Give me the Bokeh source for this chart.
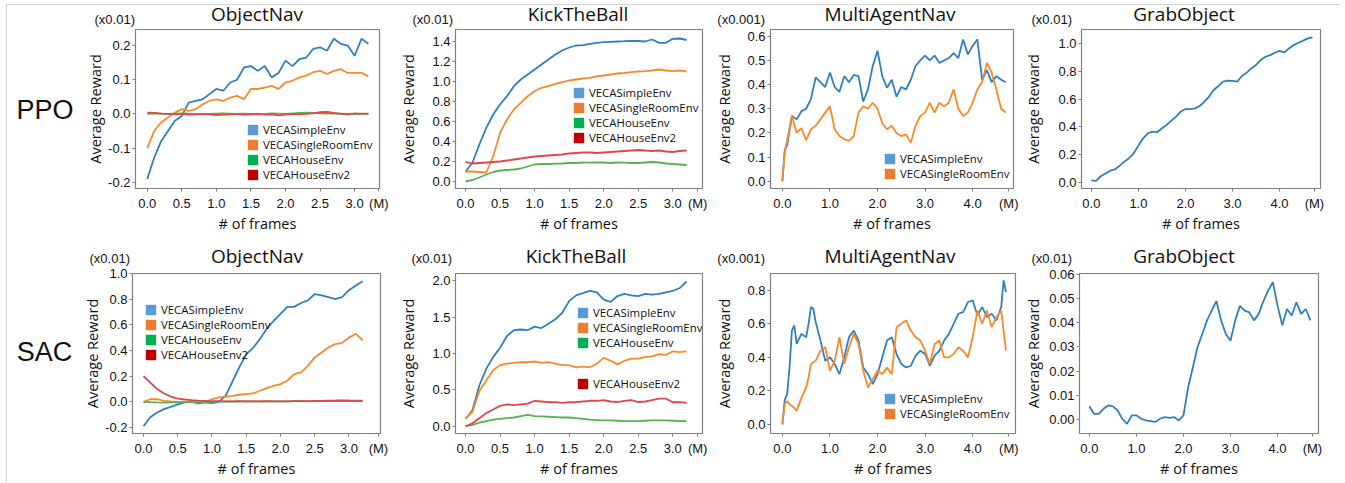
from bokeh.plotting import figure
from bokeh.models import (Legend, LegendItem, FixedTicker, NumeralTickFormatter, Range1d, Div)
from bokeh.layouts import row, column
from bokeh.embed import file_html
from bokeh.resources import INLINE

# ---------------- data ----------------
ENV_NAMES = ["VECASimpleEnv", "VECASingleRoomEnv", "VECAHouseEnv", "VECAHouseEnv2"]
ROW_NAMES = ["PPO", "SAC"]
TASK_NAMES = ["ObjectNav", "KickTheBall", "MultiAgentNav", "GrabObject"]
SCALE_TEXT = ["(x0.01)", "(x0.01)", "(x0.001)", "(x0.01)"]
X_UNIT = "(M)"

# PPO ObjectNav
X_PPO_OBJ = [0.0, 0.1, 0.2, 0.3, 0.4, 0.5, 0.6, 0.7, 0.8, 0.9, 1.0, 1.1, 1.2, 1.3, 1.4, 1.5, 1.6,
             1.7, 1.8, 1.9, 2.0, 2.1, 2.2, 2.3, 2.4, 2.5, 2.6, 2.7, 2.8, 2.9, 3.0, 3.1, 3.2]
PPO_OBJ_SIMPLE = [-0.19, -0.128, -0.08, -0.05, -0.02, -0.006, 0.033, 0.038, 0.043, 0.058, 0.073, 0.068,
                  0.092, 0.10, 0.136, 0.14, 0.126, 0.14, 0.107, 0.12, 0.156, 0.14, 0.16, 0.165, 0.19,
                  0.195, 0.185, 0.22, 0.205, 0.2, 0.17, 0.22, 0.205]
PPO_OBJ_SINGLE = [-0.1, -0.05, -0.025, -0.01, 0.004, 0.014, 0.009, 0.014, 0.028, 0.038, 0.043, 0.038,
                  0.048, 0.053, 0.043, 0.073, 0.073, 0.077, 0.082, 0.073, 0.092, 0.097, 0.107, 0.112,
                  0.122, 0.126, 0.117, 0.126, 0.131, 0.12, 0.12, 0.12, 0.11]
PPO_OBJ_HOUSE = [0.0, 0.002, 0.001, 0.0, 0.001, 0.002, 0.001, 0.0, -0.001, 0.0, 0.001, 0.002, 0.001,
                 0.0, 0.001, 0.0, -0.001, 0.0, 0.002, 0.001, 0.0, 0.002, 0.003, 0.004, 0.003, 0.002,
                 0.001, 0.002, 0.001, 0.0, 0.001, 0.001, 0.0]
PPO_OBJ_HOUSE2 = [0.004, 0.003, 0.001, 0.0, -0.001, 0.0, -0.002, -0.001, 0.0, -0.001, -0.003, -0.002,
                  -0.001, 0.0, -0.002, -0.001, 0.0, -0.002, -0.001, -0.004, -0.002, 0.0, -0.001, 0.0,
                  0.002, 0.005, 0.006, 0.003, 0.0, -0.001, 0.001, 0.0, 0.001]

# PPO KickTheBall
X_PPO_KICK = X_PPO_OBJ
PPO_KICK_SIMPLE = [0.1, 0.187, 0.37, 0.537, 0.67, 0.77, 0.853, 0.953, 1.02, 1.07, 1.12, 1.17, 1.22,
                   1.27, 1.31, 1.34, 1.36, 1.363, 1.377, 1.387, 1.393, 1.397, 1.40, 1.403, 1.407,
                   1.405, 1.40, 1.42, 1.387, 1.387, 1.427, 1.43, 1.415]
PPO_KICK_SINGLE = [0.1, 0.1, 0.095, 0.09, 0.25, 0.487, 0.62, 0.72, 0.787, 0.853, 0.903, 0.937, 0.953,
                   0.977, 0.993, 1.01, 1.02, 1.03, 1.037, 1.05, 1.06, 1.07, 1.08, 1.085, 1.093, 1.10,
                   1.103, 1.11, 1.12, 1.11, 1.103, 1.11, 1.10]
PPO_KICK_HOUSE = [0.0, 0.015, 0.04, 0.07, 0.095, 0.11, 0.115, 0.12, 0.13, 0.15, 0.17, 0.175, 0.175,
                  0.178, 0.18, 0.185, 0.185, 0.19, 0.188, 0.19, 0.19, 0.185, 0.19, 0.188, 0.185, 0.185,
                  0.19, 0.195, 0.19, 0.18, 0.175, 0.17, 0.165]
PPO_KICK_HOUSE2 = [0.197, 0.18, 0.185, 0.19, 0.195, 0.2, 0.21, 0.22, 0.23, 0.24, 0.25, 0.255, 0.26,
                   0.265, 0.27, 0.28, 0.285, 0.29, 0.29, 0.285, 0.29, 0.295, 0.3, 0.305, 0.31, 0.315,
                   0.31, 0.305, 0.31, 0.3, 0.295, 0.305, 0.31]

# PPO MultiAgentNav
X_PPO_MULTI = [0.0, 0.05, 0.1, 0.2, 0.3, 0.4, 0.5, 0.6, 0.7, 0.8, 0.9, 1.0, 1.1, 1.2, 1.3, 1.4, 1.5,
               1.6, 1.7, 1.8, 1.9, 2.0, 2.1, 2.2, 2.3, 2.4, 2.5, 2.6, 2.7, 2.8, 2.9, 3.0, 3.1, 3.2,
               3.3, 3.4, 3.5, 3.6, 3.7, 3.8, 3.9, 4.0, 4.1, 4.2, 4.3, 4.4, 4.5, 4.6, 4.7]
PPO_MULTI_SIMPLE = [0.0, 0.13, 0.15, 0.27, 0.256, 0.29, 0.30, 0.34, 0.43, 0.41, 0.39, 0.45, 0.39, 0.37,
                    0.435, 0.41, 0.44, 0.435, 0.33, 0.38, 0.477, 0.54, 0.435, 0.387, 0.42, 0.35, 0.39,
                    0.38, 0.42, 0.477, 0.50, 0.52, 0.50, 0.52, 0.49, 0.50, 0.51, 0.53, 0.51, 0.587,
                    0.525, 0.56, 0.587, 0.42, 0.46, 0.41, 0.435, 0.42, 0.41]
PPO_MULTI_SINGLE = [0.0, 0.12, 0.17, 0.27, 0.2, 0.22, 0.17, 0.215, 0.23, 0.256, 0.284, 0.31, 0.215,
                    0.187, 0.174, 0.167, 0.187, 0.284, 0.31, 0.30, 0.325, 0.30, 0.24, 0.215, 0.23, 0.20,
                    0.187, 0.194, 0.16, 0.23, 0.27, 0.284, 0.325, 0.284, 0.325, 0.31, 0.325, 0.38, 0.30,
                    0.27, 0.284, 0.325, 0.38, 0.41, 0.49, 0.45, 0.38, 0.30, 0.284]

# PPO GrabObject
X_PPO_GRAB = [0.0, 0.1, 0.2, 0.3, 0.4, 0.5, 0.6, 0.7, 0.8, 0.9, 1.0, 1.1, 1.2, 1.3, 1.4, 1.5, 1.6,
              1.7, 1.8, 1.9, 2.0, 2.1, 2.2, 2.3, 2.4, 2.5, 2.6, 2.7, 2.8, 2.9, 3.0, 3.1, 3.2, 3.3,
              3.4, 3.5, 3.6, 3.7, 3.8, 3.9, 4.0, 4.1, 4.2, 4.3, 4.4, 4.5, 4.6, 4.7]
PPO_GRAB_SIMPLE = [0.015, 0.012, 0.045, 0.065, 0.085, 0.095, 0.12, 0.15, 0.175, 0.21, 0.266, 0.318,
                   0.354, 0.366, 0.361, 0.39, 0.414, 0.445, 0.474, 0.51, 0.528, 0.528, 0.533, 0.55,
                   0.58, 0.617, 0.665, 0.694, 0.725, 0.732, 0.73, 0.725, 0.766, 0.79, 0.82, 0.845,
                   0.88, 0.904, 0.916, 0.933, 0.947, 0.935, 0.964, 0.988, 1.005, 1.02, 1.036, 1.043]

# SAC ObjectNav
X_SAC_OBJ = X_PPO_OBJ
SAC_OBJ_SIMPLE = [-0.19, -0.12, -0.083, -0.057, -0.04, -0.02, -0.005, 0.0, -0.013, -0.005, -0.01, 0.0,
                  0.047, 0.16, 0.27, 0.37, 0.42, 0.49, 0.57, 0.63, 0.685, 0.74, 0.74, 0.77, 0.79, 0.84,
                  0.83, 0.815, 0.80, 0.815, 0.87, 0.906, 0.94]
SAC_OBJ_SINGLE = [0.0, 0.02, 0.02, 0.008, 0.003, 0.0, -0.002, -0.003, -0.005, 0.0, 0.02, 0.034, 0.04,
                  0.047, 0.055, 0.06, 0.065, 0.086, 0.107, 0.125, 0.138, 0.164, 0.216, 0.23, 0.28,
                  0.346, 0.385, 0.424, 0.45, 0.46, 0.50, 0.53, 0.48]
SAC_OBJ_HOUSE = [0.0, -0.003, -0.005, -0.006, -0.005, -0.004, -0.003, -0.002, -0.002, -0.001, 0.0,
                 0.001, 0.002, 0.002, 0.003, 0.003, 0.003, 0.004, 0.004, 0.003, 0.004, 0.004, 0.005,
                 0.005, 0.004, 0.005, 0.005, 0.006, 0.005, 0.006, 0.006, 0.005, 0.006]
SAC_OBJ_HOUSE2 = [0.2, 0.15, 0.1, 0.065, 0.04, 0.025, 0.018, 0.013, 0.01, 0.008, 0.006, 0.005, 0.004,
                  0.004, 0.005, 0.004, 0.003, 0.004, 0.005, 0.004, 0.003, 0.004, 0.005, 0.006, 0.006,
                  0.007, 0.008, 0.009, 0.01, 0.01, 0.01, 0.009, 0.01]

# SAC KickTheBall
X_SAC_KICK = X_PPO_OBJ
SAC_KICK_SIMPLE = [0.1, 0.22, 0.56, 0.79, 0.95, 1.08, 1.24, 1.32, 1.33, 1.32, 1.37, 1.35, 1.41, 1.47,
                   1.56, 1.72, 1.80, 1.83, 1.86, 1.84, 1.74, 1.71, 1.79, 1.82, 1.80, 1.79, 1.82, 1.81,
                   1.82, 1.84, 1.86, 1.90, 1.99]
SAC_KICK_SINGLE = [0.1, 0.2, 0.48, 0.63, 0.77, 0.84, 0.86, 0.87, 0.88, 0.88, 0.89, 0.87, 0.88, 0.86,
                   0.84, 0.84, 0.81, 0.82, 0.81, 0.86, 0.94, 0.90, 0.85, 0.90, 0.93, 0.93, 0.95, 0.96,
                   0.99, 0.98, 1.03, 1.02, 1.03]
SAC_KICK_HOUSE = [0.0, 0.02, 0.05, 0.07, 0.09, 0.10, 0.11, 0.12, 0.14, 0.155, 0.14, 0.135, 0.13,
                  0.125, 0.12, 0.12, 0.11, 0.10, 0.09, 0.085, 0.08, 0.08, 0.075, 0.07, 0.07, 0.07,
                  0.075, 0.08, 0.08, 0.08, 0.075, 0.07, 0.07]
SAC_KICK_HOUSE2 = [0.0, 0.04, 0.11, 0.18, 0.23, 0.28, 0.30, 0.29, 0.30, 0.31, 0.35, 0.34, 0.33, 0.33,
                   0.32, 0.33, 0.33, 0.34, 0.35, 0.35, 0.36, 0.34, 0.33, 0.35, 0.36, 0.33, 0.34, 0.36,
                   0.38, 0.38, 0.33, 0.33, 0.32]

# SAC MultiAgentNav
X_SAC_MULTI = [0.0, 0.05, 0.1, 0.15, 0.2, 0.25, 0.3, 0.4, 0.5, 0.55, 0.6, 0.65, 0.7, 0.8, 0.9, 1.0,
               1.1, 1.2, 1.3, 1.4, 1.5, 1.6, 1.7, 1.8, 1.9, 2.0, 2.1, 2.2, 2.3, 2.4, 2.5, 2.6, 2.7,
               2.8, 2.9, 3.0, 3.1, 3.2, 3.3, 3.4, 3.5, 3.6, 3.7, 3.8, 3.9, 4.0, 4.1, 4.2, 4.3, 4.4,
               4.5, 4.6, 4.65, 4.7]
SAC_MULTI_SIMPLE = [0.0, 0.15, 0.18, 0.34, 0.56, 0.59, 0.48, 0.54, 0.52, 0.60, 0.70, 0.69, 0.61, 0.50,
                    0.38, 0.40, 0.36, 0.30, 0.40, 0.52, 0.56, 0.50, 0.34, 0.30, 0.24, 0.30, 0.40, 0.50,
                    0.52, 0.42, 0.36, 0.34, 0.35, 0.41, 0.44, 0.42, 0.35, 0.41, 0.44, 0.50, 0.54, 0.60,
                    0.66, 0.67, 0.73, 0.74, 0.65, 0.70, 0.64, 0.66, 0.62, 0.70, 0.86, 0.79]
SAC_MULTI_SINGLE = [0.0, 0.12, 0.14, 0.12, 0.11, 0.10, 0.08, 0.16, 0.22, 0.28, 0.36, 0.37, 0.38, 0.44,
                    0.46, 0.32, 0.38, 0.52, 0.36, 0.46, 0.54, 0.48, 0.32, 0.22, 0.27, 0.32, 0.30, 0.34,
                    0.30, 0.58, 0.60, 0.62, 0.56, 0.52, 0.50, 0.44, 0.36, 0.48, 0.50, 0.40, 0.40, 0.42,
                    0.46, 0.44, 0.40, 0.52, 0.68, 0.60, 0.68, 0.58, 0.64, 0.68, 0.56, 0.44]

# SAC GrabObject
X_SAC_GRAB = X_PPO_GRAB
SAC_GRAB_SIMPLE = [0.0055, 0.0023, 0.0023, 0.0044, 0.0058, 0.0054, 0.0037, 0.0003, -0.0018, 0.0017,
                   0.0017, 0.0003, -0.0004, -0.0007, -0.001, 0.0003, 0.001, 0.0007, 0.001, -0.0004,
                   0.0017, 0.0134, 0.0216, 0.030, 0.0354, 0.041, 0.045, 0.049, 0.041, 0.0354, 0.0326,
                   0.041, 0.047, 0.045, 0.0443, 0.041, 0.0437, 0.049, 0.0533, 0.0568, 0.047, 0.039,
                   0.0457, 0.043, 0.0485, 0.0437, 0.0457, 0.041]

# ---------------- styling ----------------
LINE_COLORS = ["#2f7fc1", "#f88a2b", "#55b255", "#e0474c"]
PATCH_COLORS = ["#5b9bd5", "#ed7d31", "#00b050", "#c00000"]
GRAY = "#808080"
BORDER = "#d4d4d4"
INK = "#111111"
TICK_FONT = "Liberation Sans"
TEXT_FONT = "Open Sans"


def span_html(text, left, top, font, size, align):
    if align == "center":
        pos = "left:%spx;transform:translateX(-50%%);" % left
    elif align == "right":
        pos = "right:%spx;" % left
    else:
        pos = "left:%spx;" % left
    return ('<span style="position:absolute;%stop:%spx;font-family:\'%s\';font-size:%spx;'
            'line-height:1;white-space:nowrap;color:%s;">%s</span>' % (pos, top, font, size, INK, text))


def box_html(left, top, width, height):
    return ('<div style="position:absolute;left:%spx;top:%spx;width:%spx;height:%spx;'
            'background:%s;"></div>' % (left, top, width, height, BORDER))


def wrap_div(width, height, inner):
    html = ('<div style="position:relative;width:%spx;height:%spx;margin:0;padding:0;'
            'overflow:visible;">%s</div>' % (width, height, inner))
    return Div(text=html, width=width, height=height,
               styles={"margin": "0", "padding": "0", "overflow": "visible", "z-index": "2"})


def strip(width, height, title, tx, ttop, scale, sx, stop, top_line):
    inner = ""
    if top_line:
        inner += box_html(0, 3.5, width, 1.5)
    inner += span_html(title, tx, ttop, TEXT_FONT, 19, "center")
    inner += span_html(scale, width - sx, stop, TICK_FONT, 13, "right")
    return wrap_div(width, height, inner)


def side_div(width, height, text, cx, ltop, top_line):
    inner = ""
    if top_line:
        inner += box_html(5.5, 3.5, width - 5.5, 1.5)
        inner += box_html(5.5, 3.5, 1.5, height - 3.5)
    else:
        inner += box_html(5.5, 0, 1.5, height)
    if text:
        inner += span_html(text, cx, ltop, TICK_FONT, 27, "center")
    return wrap_div(width, height, inner)


def panel(cfg, x, series):
    p = figure(frame_width=cfg["fw"], frame_height=cfg["fh"],
               min_border_left=cfg["bl"], min_border_right=cfg["br"],
               min_border_top=cfg["bt"], min_border_bottom=cfg["bb"],
               x_range=Range1d(*cfg["xr"]), y_range=Range1d(*cfg["yr"]),
               output_backend="svg", toolbar_location=None, title=None)
    p.grid.visible = False
    p.outline_line_color = GRAY
    p.outline_line_width = 1.2
    p.background_fill_color = "white"
    p.border_fill_alpha = 0

    for ax in (p.xaxis[0], p.yaxis[0]):
        ax.axis_line_color = GRAY
        ax.major_tick_line_color = GRAY
        ax.minor_tick_line_color = None
        ax.major_tick_out = 3
        ax.major_tick_in = 0
        ax.major_label_text_font = TICK_FONT
        ax.major_label_text_font_size = "13px"
        ax.major_label_text_color = INK
        ax.axis_label_text_font = TEXT_FONT
        ax.axis_label_text_font_size = "14.5px"
        ax.axis_label_text_font_style = "normal"
        ax.axis_label_text_color = INK
    mx = cfg["mx"]
    p.xaxis[0].ticker = FixedTicker(ticks=cfg["xt"] + [mx])
    p.xaxis[0].major_label_overrides = {mx: X_UNIT}
    p.yaxis[0].ticker = FixedTicker(ticks=cfg["yt"])
    p.xaxis[0].formatter = NumeralTickFormatter(format="0.0")
    p.yaxis[0].formatter = NumeralTickFormatter(format=cfg.get("yfmt", "0.0"))
    p.xaxis[0].major_label_standoff = 4
    p.yaxis[0].major_label_standoff = 2
    p.xaxis[0].axis_label = "# of frames"
    p.yaxis[0].axis_label = "Average Reward"
    p.xaxis[0].axis_label_standoff = 0
    p.yaxis[0].axis_label_standoff = cfg["yls"]

    for i, ys in enumerate(series):
        p.line(x, ys, line_color=LINE_COLORS[i], line_width=1.8)

    # legends with square patches (hidden zero-size proxies built from the data)
    for (idxs, lx, ly) in cfg["legends"]:
        items = []
        for i in idxs:
            r = p.quad(left=x[:1], right=x[:1], top=series[0][:1], bottom=series[0][:1],
                       fill_color=PATCH_COLORS[i], line_color=None, visible=False)
            items.append(LegendItem(label=ENV_NAMES[i], renderers=[r]))
        leg = Legend(items=items, location=(lx, ly), glyph_width=13, glyph_height=13,
                     label_height=13, spacing=0, padding=0, margin=0, label_standoff=4,
                     background_fill_alpha=0, border_line_alpha=0,
                     inactive_fill_alpha=0,
                     label_text_font=TEXT_FONT, label_text_font_size="11.4px",
                     label_text_color=INK)
        p.add_layout(leg)
    return p


XT_3 = [0.0, 0.5, 1.0, 1.5, 2.0, 2.5, 3.0]
XT_4 = [0.0, 1.0, 2.0, 3.0, 4.0]

COL_W = [312, 320, 304, 325]
LABEL_W = 80
ROW1_STRIP_H, ROW1_PLOT_H = 27, 213
ROW2_STRIP_H, ROW2_PLOT_H = 25, 217

cfgs_row1 = [
    dict(fw=244, fh=159, bl=55, br=13, bt=2, bb=52, xr=(-0.17, 3.36), yr=(-0.218, 0.247),
         xt=XT_3, yt=[-0.2, -0.1, 0.0, 0.1, 0.2], yls=0, mx=3.35,
         legends=[([0, 1, 2, 3], 111, 6)], tx=177, sx=55),
    dict(fw=247, fh=159, bl=63, br=10, bt=2, bb=52, xr=(-0.145, 3.43), yr=(-0.07, 1.52),
         xt=XT_3, yt=[0.0, 0.2, 0.4, 0.6, 0.8, 1.0, 1.2, 1.4], yls=11, mx=3.36,
         legends=[([0, 1, 2, 3], 117, 43)], tx=186, sx=61),
    dict(fw=243, fh=159, bl=53, br=8, bt=2, bb=52, xr=(-0.25, 4.86), yr=(-0.03, 0.628),
         xt=XT_4, yt=[0.0, 0.1, 0.2, 0.3, 0.4, 0.5, 0.6], yls=10, mx=4.76,
         legends=[([0, 1], 113, 7)], tx=178, sx=53),
    dict(fw=239, fh=159, bl=56, br=30, bt=2, bb=52, xr=(-0.21, 4.87), yr=(-0.043, 1.1),
         xt=XT_4, yt=[0.0, 0.2, 0.4, 0.6, 0.8, 1.0], yls=12, mx=4.74,
         legends=[], tx=168, sx=56),
]
data_row1 = [
    (X_PPO_OBJ, [PPO_OBJ_SIMPLE, PPO_OBJ_SINGLE, PPO_OBJ_HOUSE, PPO_OBJ_HOUSE2]),
    (X_PPO_KICK, [PPO_KICK_SIMPLE, PPO_KICK_SINGLE, PPO_KICK_HOUSE, PPO_KICK_HOUSE2]),
    (X_PPO_MULTI, [PPO_MULTI_SIMPLE, PPO_MULTI_SINGLE]),
    (X_PPO_GRAB, [PPO_GRAB_SIMPLE]),
]

cfgs_row2 = [
    dict(fw=248, fh=160, bl=52, br=12, bt=8, bb=49, xr=(-0.16, 3.46), yr=(-0.247, 1.0),
         xt=XT_3, yt=[-0.2, 0.0, 0.2, 0.4, 0.6, 0.8, 1.0], yls=0, mx=3.43,
         legends=[([0, 1, 2, 3], 12, 71)], tx=177, sx=50),
    dict(fw=247, fh=160, bl=63, br=10, bt=8, bb=49, xr=(-0.145, 3.43), yr=(-0.1, 2.1),
         xt=XT_3, yt=[0.0, 0.5, 1.0, 1.5, 2.0], yls=11, mx=3.36,
         legends=[([0, 1, 2], 121, 83), ([3], 121, 42.5)], tx=184, sx=60),
    dict(fw=245, fh=160, bl=53, br=6, bt=8, bb=49, xr=(-0.25, 4.9), yr=(-0.054, 0.9),
         xt=XT_4, yt=[0.0, 0.2, 0.4, 0.6, 0.8], yls=10, mx=4.76,
         legends=[([0, 1], 113, 12)], tx=178, sx=53),
    dict(fw=239, fh=160, bl=56, br=30, bt=8, bb=49, xr=(-0.21, 4.87), yr=(-0.0058, 0.0604),
         xt=XT_4, yt=[0.0, 0.01, 0.02, 0.03, 0.04, 0.05, 0.06], yfmt="0.00", yls=3, mx=4.74,
         legends=[], tx=168, sx=56),
]
data_row2 = [
    (X_SAC_OBJ, [SAC_OBJ_SIMPLE, SAC_OBJ_SINGLE, SAC_OBJ_HOUSE, SAC_OBJ_HOUSE2]),
    (X_SAC_KICK, [SAC_KICK_SIMPLE, SAC_KICK_SINGLE, SAC_KICK_HOUSE, SAC_KICK_HOUSE2]),
    (X_SAC_MULTI, [SAC_MULTI_SIMPLE, SAC_MULTI_SINGLE]),
    (X_SAC_GRAB, [SAC_GRAB_SIMPLE]),
]

# row 1: strip row + plot row
strips1 = [side_div(LABEL_W, ROW1_STRIP_H, "", 0, 0, True)]
plots1 = [side_div(LABEL_W, ROW1_PLOT_H, ROW_NAMES[0], 45, 97 - ROW1_STRIP_H, False)]
for j, (cfg, (x, ser)) in enumerate(zip(cfgs_row1, data_row1)):
    strips1.append(strip(COL_W[j], ROW1_STRIP_H, TASK_NAMES[j], cfg["tx"], 5, SCALE_TEXT[j],
                         cfg["sx"], 13, True))
    plots1.append(panel(cfg, x, ser))

# row 2: strip row + plot row
strips2 = [side_div(LABEL_W, ROW2_STRIP_H, "", 0, 0, False)]
plots2 = [side_div(LABEL_W, ROW2_PLOT_H, ROW_NAMES[1], 44.5, 99 - ROW2_STRIP_H, False)]
for j, (cfg, (x, ser)) in enumerate(zip(cfgs_row2, data_row2)):
    strips2.append(strip(COL_W[j], ROW2_STRIP_H, TASK_NAMES[j], cfg["tx"], 7, SCALE_TEXT[j],
                         cfg["sx"], 12, False))
    plots2.append(panel(cfg, x, ser))

layout = column(row(*strips1), row(*plots1), row(*strips2), row(*plots2))

open("out.html", "w").write(file_html(layout, INLINE))
